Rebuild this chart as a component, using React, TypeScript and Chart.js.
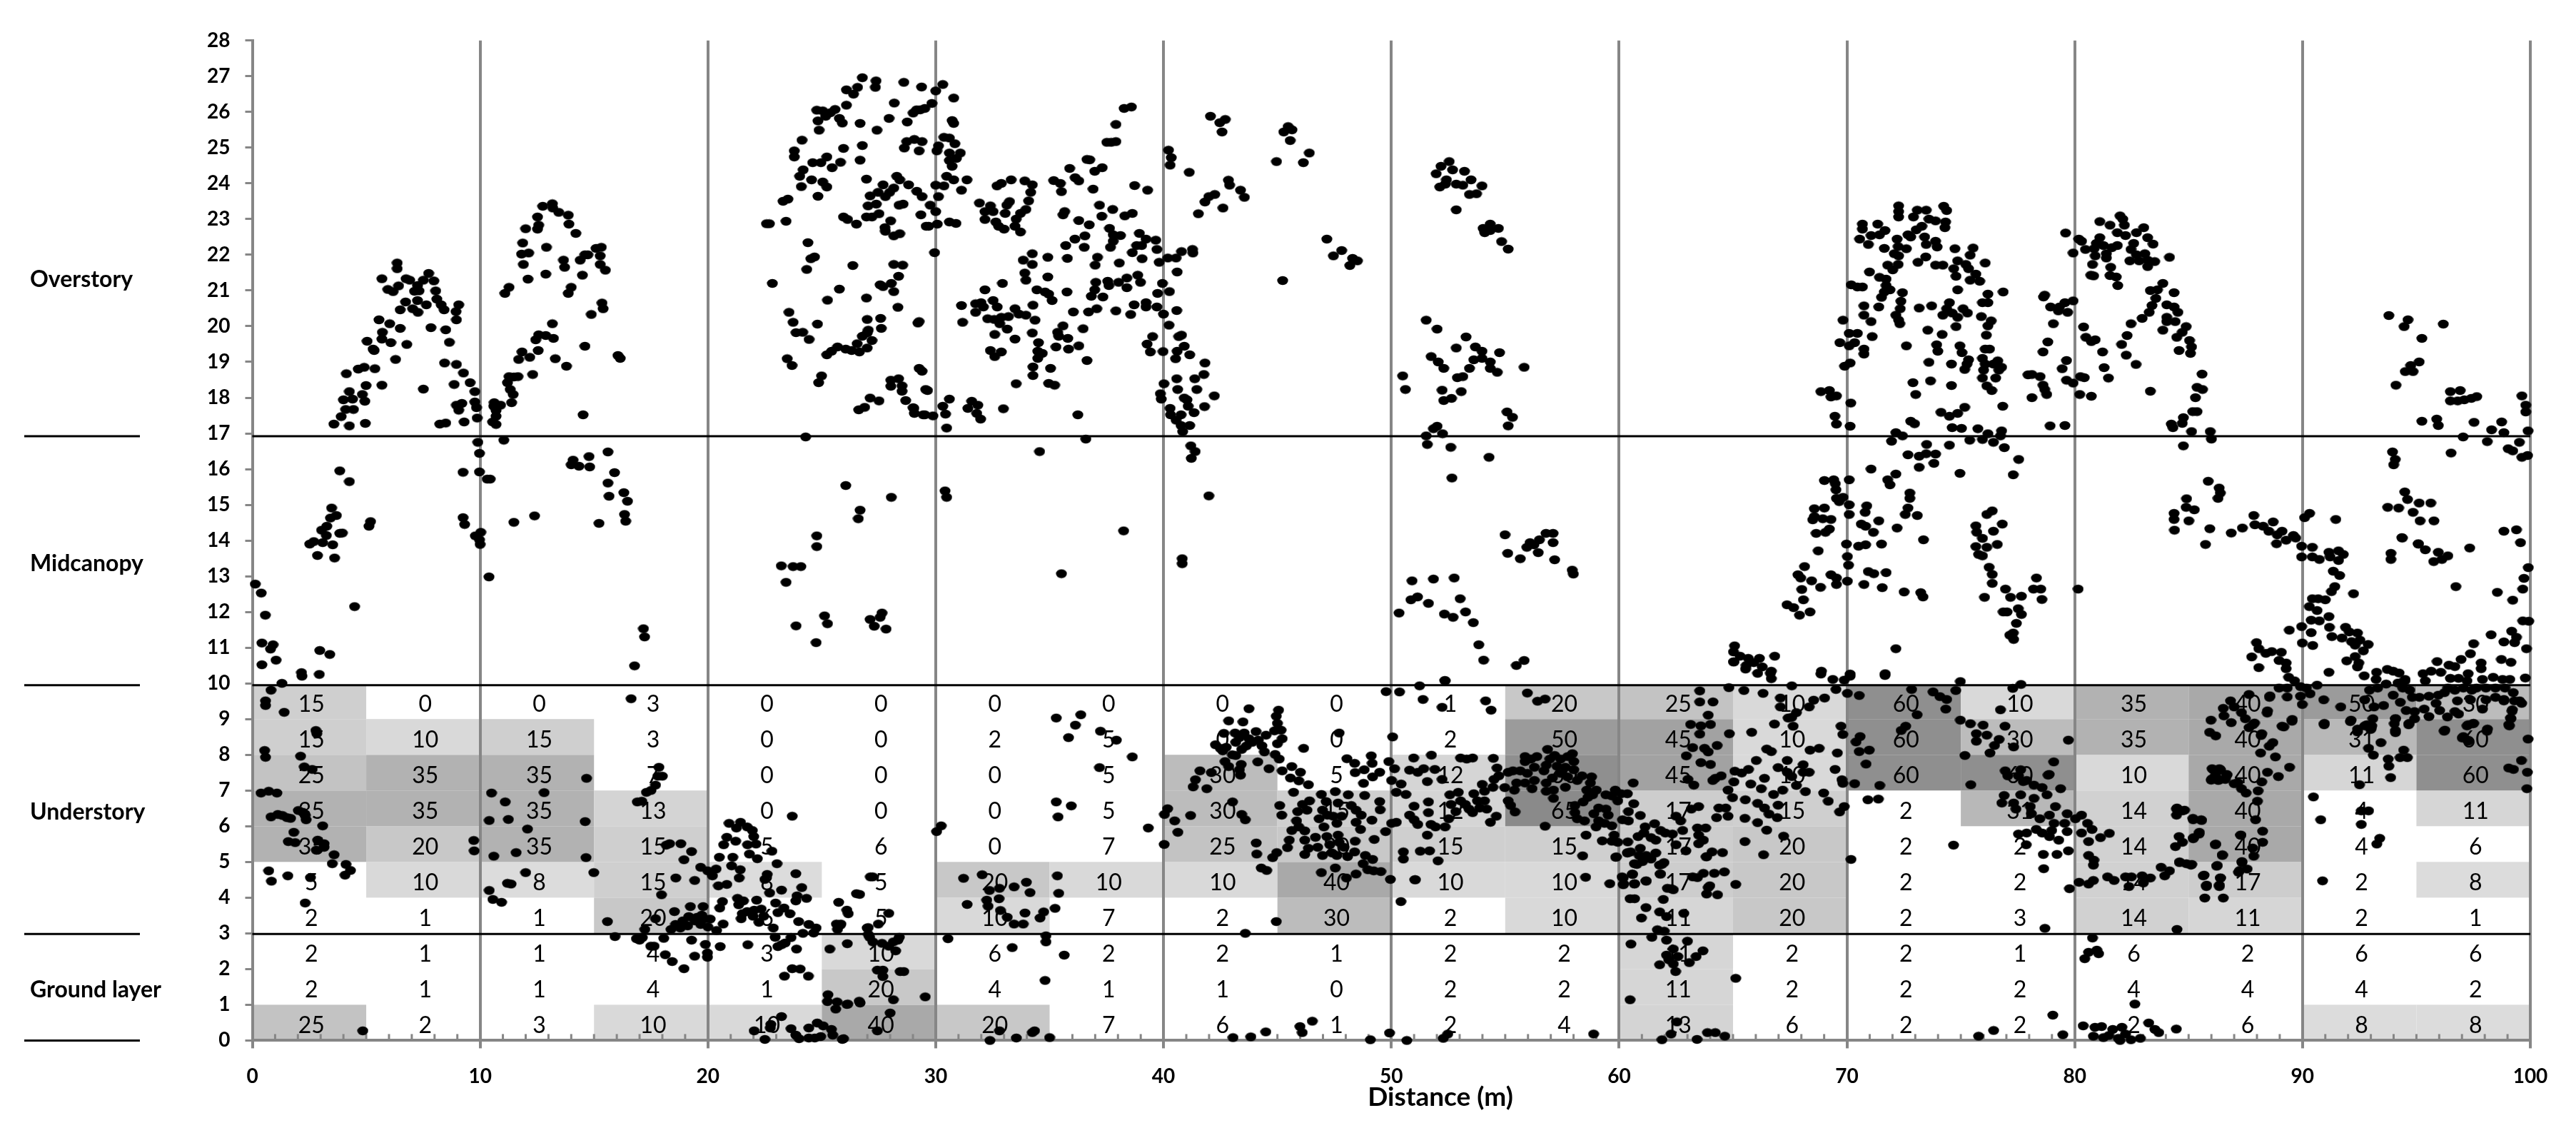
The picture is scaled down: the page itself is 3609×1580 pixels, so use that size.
import React, { useEffect, useRef } from "react";
import { Chart, registerables } from "chart.js";

Chart.register(...registerables);

const yTicksMax = 28;
const layerLines = [2.98, 9.95, 16.92];
const layerNames = [
  { name: "Overstory", y: 21.3 },
  { name: "Midcanopy", y: 13.35 },
  { name: "Understory", y: 6.4 },
  { name: "Ground layer", y: 1.42 },
];
const columnStarts = [0, 5, 10, 15, 20, 25, 30, 35, 40, 45, 50, 55, 60, 65, 70, 75, 80, 85, 90, 95];
const row9 = [15, 0, 0, 3, 0, 0, 0, 0, 0, 0, 1, 20, 25, 10, 60, 10, 35, 40, 50, 30];
const row8 = [15, 10, 15, 3, 0, 0, 2, 5, 0, 0, 2, 50, 45, 10, 60, 30, 35, 40, 31, 60];
const row7 = [25, 35, 35, 7, 0, 0, 0, 5, 30, 5, 12, 60, 45, 10, 60, 60, 10, 40, 11, 60];
const row6 = [35, 35, 35, 13, 0, 0, 0, 5, 30, 15, 12, 65, 17, 15, 2, 31, 14, 40, 4, 11];
const row5 = [35, 20, 35, 15, 5, 6, 0, 7, 25, 20, 15, 15, 17, 20, 2, 2, 14, 40, 4, 6];
const row4 = [5, 10, 8, 15, 8, 5, 20, 10, 10, 40, 10, 10, 17, 20, 2, 2, 14, 17, 2, 8];
const row3 = [2, 1, 1, 20, 6, 5, 10, 7, 2, 30, 2, 10, 11, 20, 2, 3, 14, 11, 2, 1];
const row2 = [2, 1, 1, 4, 3, 10, 6, 2, 2, 1, 2, 2, 11, 2, 2, 1, 6, 2, 6, 6];
const row1 = [2, 1, 1, 4, 1, 20, 4, 1, 1, 0, 2, 2, 11, 2, 2, 2, 4, 4, 4, 2];
const row0 = [25, 2, 3, 10, 10, 40, 20, 7, 6, 1, 2, 4, 13, 6, 2, 2, 2, 6, 8, 8];
const rows = [row0, row1, row2, row3, row4, row5, row6, row7, row8, row9];
const shades: Record<number, string> = {
  8: "#dcdcdc", 10: "#d9d9d9", 11: "#d6d6d6", 12: "#d5d5d5", 13: "#d4d4d4", 14: "#d1d1d1", 15: "#cfcfcf", 17: "#cdcdcd",
  20: "#c8c8c8", 25: "#c3c3c3", 30: "#bcbcbc", 31: "#b8b8b8", 35: "#b2b2b2", 40: "#a9a9a9", 45: "#a2a2a2", 50: "#9b9b9b",
  60: "#8f8f8f", 65: "#8a8a8a",
};

const treeA = [3.58,17.26,4.26,17.21,4.96,17.28,3.9,17.47,4.44,17.67,4.1,17.67,4,17.94,4.26,18.17,4.4,17.96,4.83,18.09,4.94,17.9,4.99,18.34,5.69,18.35,4.13,18.67,4.65,18.8,4.91,18.85,5.38,18.81,6.29,19.07,5.35,19.32,5.04,19.58,5.3,19.36,5.69,19.64,6.08,19.54,6.78,19.49,5.71,19.83,5.56,20.18,6.03,20.07,6.49,19.94,7.51,18.24,6.49,20.46,7.04,20.49,7.27,20.39,6.73,20.68,7.64,20.6,7.25,20.72,5.95,21.03,6.18,20.97,5.69,21.33,6.42,21.13,6.36,21.77,6.36,21.61,6.75,21.33,6.91,21.29,7.12,20.98,7.32,20.99,7.25,21.14,7.51,21.29,7.74,21.48,7.97,21.27,8.05,20.99,8.1,20.76,8.29,20.6,8.42,20.46,7.84,19.96,8.49,19.9,8.65,19.55,8.44,18.97,8.96,18.93,9.27,18.69,8.86,18.37,9.56,18.42,9.77,18.17,8.94,20.41,9.06,20.6,8.96,20.18,8.96,17.79,9.2,17.84,9.06,17.65,9.77,17.88,9.84,17.72,9.87,17.43,9.3,17.32,8.23,17.26,8.49,17.29];
const treeB = [10.6,17.76,10.62,17.86,10.9,17.79,10.7,17.48,10.7,17.64,10.55,17.32,10.7,17.25,11.38,17.86,11.45,18.09,11.32,18.23,11.2,18.42,11.27,18.59,11.48,18.58,11.66,18.59,12.31,18.65,11.69,19.07,11.84,19.28,12.18,19.13,12.55,19.32,12.44,19.62,12.57,19.76,12.88,19.74,13.22,19.66,13.17,20.07,13.3,19.09,13.79,18.88,14.6,19.44,14.52,17.52,11.09,20.92,11.27,21.09,12.1,21.32,11.9,21.73,11.82,22.02,11.87,22.33,12.13,22.05,12.91,22.21,12.88,21.46,12,22.73,12.52,23.06,12.57,22.83,12.52,22.72,12.75,23.36,13.17,23.43,13.19,23.31,13.45,23.19,13.87,23.11,13.9,22.86,14.2,22.6,15.09,22.18,15.32,22.21,14.6,22,14.39,21.85,13.66,21.85,13.71,21.65,14.49,21.43,15.27,21.97,15.27,21.73,15.5,21.57,14,21.09,13.87,20.92,15.35,20.65,15.4,20.49,14.88,20.33,16.05,19.18,16.15,19.1,14.73,22];
const midA = [0.13,12.78,0.39,12.53,0.57,11.91,0.42,11.13,0.8,10.96,0.91,11.08,0.42,10.52,1.04,10.65,2.16,10.3,2.18,10.2,2.94,10.25,2.96,10.92,3.4,10.81,4.49,12.15,2.52,13.9,2.7,13.97,2.86,13.58,3.09,13.94,3.61,13.51,3.53,13.88,3.04,14.29,3.27,14.4,3.25,14.14,3.43,14.63,3.69,14.7,3.84,14.2,3.95,14.21,3.48,14.91,3.84,15.95,4.26,15.65,5.19,14.53,5.12,14.4,9.25,15.91,9.97,15.92,10.31,15.72,10.44,15.72,9.9,16.75,9.97,16.44,11.04,16.81,9.25,14.64,9.32,14.45,9.79,14.13,10.03,14.23,9.97,14.02,10,13.89,10.39,12.98,11.48,14.51,12.39,14.69,15.22,14.48,16.34,14.73,16.39,14.54,16.31,15.34,16.47,15.1,15.66,15.24,15.61,15.61,15.9,15.9,15.61,16.48,14.78,16.35,14.81,16.06,14.08,16.25,14,16.12,14.34,16.08,17.17,11.53,17.22,11.3,16.78,10.49];
const underA = [1.3,10,0.82,9.81,0.58,9.51,0.58,9.38,1.4,9.19,2.79,8.68,2.83,8.59,0.54,8.12,0.58,7.93,2.12,7.96,2.28,7.66,2.63,7.59,0.38,6.93,0.72,6.98,1.08,6.93,2.02,6.44,2.22,6.39,2.32,6.3,2.36,6.18,3.09,6.01,0.82,6.26,1.12,6.33,1.32,6.3,1.52,6.24,1.68,6.22,1.82,5.83,1.58,5.57,1.88,5.54,2.87,5.61,3.15,5.51,3.15,5.41,2.81,5.33,3.59,5.2,3.51,4.95,4.11,4.93,4.31,4.76,4.07,4.63,0.72,4.75,0.84,4.46,1.56,4.61,2.55,4.56,2.32,3.85,4.85,0.27,9.72,5.6,9.74,5.31,10.5,6.93,11.1,6.68,12.81,6.94,10.4,6.16,11.24,6.19,12.08,5.92,14.67,7.34,14.61,6.13,14.65,5.12,14.99,4.7,10.6,5.16,11.58,5.26,12,4.7,10.4,4.2,10.56,3.95,10.94,3.87,11.2,4.4,11.36,4.38,16.63,9.57];
const underB = [16.9,6.68,17.1,6.7,17.3,6.95,17.5,7,17.7,7.15,17.8,7.4,18,7.4,17.85,7.65,15.59,3.33,15.92,2.91,17,2.81,17.12,2.88,17.23,3.11,16.86,2.85,17.64,2.64,17.49,2.64,17.7,3.41,18.06,2.86,18.13,2.4,18.43,2.21,18.95,2.01,19.28,2.81,19.89,2.69,19.42,2.36,19.98,2.45,19.98,2.33,20.54,2.63,21.75,2.68,23.07,2.63,23.23,2.68,23.39,2.73,23.89,2.56,22.95,2.89,23.65,2.88,24.17,3,24.64,3.01,25.69,3.11,25.81,3.23,25.35,2.56,26.12,2.71,26.99,3.15,27.1,2.89,23.7,2.01,24.05,2,23.36,1.8,24.41,1.8,25.27,1.28,25.25,1.09,25.67,1.08,25.61,0.88,26.1,1.01,26.68,1.05,26.66,4.09,26.52,4.11,25.74,3.87,26.1,3.65,26.16,3.55,27.13,4.58,23.23,0.67,22.03,0.27,22.76,0.45,22.74,0.35,22.5,0.03,23.65,0.33,23.86,0.15,24,0.05,24.43,0.07,24.43,0.35,24.8,0.49,25.06,0.41,25.42,0.31,25.48,0.15,24.95,0.11,24.69,0.07,25.95,0.05,18.32,5.51,18.17,5.47,18.81,5.51,19.28,5.29,18.95,5.06,19.68,4.85,19.99,4.75,20.2,4.61,20.36,4.8,18.59,4.55,19.42,4.48,17.96,4.08,18.53,3.61,19.23,3.75,19.79,3.75,18.38,3.11,18.58,3.25,18.79,3.15,18.9,3.35,19.11,3.21,19.16,3.47,19.42,3.35,19.52,3.45,19.68,3.25,19.84,3.41,20,3.18,20.1,3.4,19.73,3.51,20.38,3.08,20.67,3.26,20.52,3.71,20.64,3.89,21.3,3.98,21.35,3.8,21.56,3.91,22.14,3.93,21.46,3.41,21.51,3.55,21.72,3.61,22.03,3.65,22.34,3.68,22.24,3.31,21.98,3.48,22.45,3.48,22.87,3.15,22.97,3.85,23.34,3.71,23.07,3.58,23.6,3.55,23.98,3.33,23.86,3.91,23.91,4.05,24.33,3.98,24.43,3.25,24.75,3.15,24.12,4.28,23.86,4.67,23.23,4.21,22.71,4.13,22.6,4.65,22.5,4.51,23.03,4.95,20.93,6.08,21.25,5.95,21.43,6.11,21.72,5.98,21.95,5.88,22.01,5.71,20.83,5.69,21.22,5.58,20.69,5.48,21.74,5.48,22.11,5.5,22.81,5.3,21.82,5.22,22.17,5.09,20.5,5.13,21.09,5.13,21.04,4.89,21.42,4.78,21.37,4.55,20.46,4.33,20.83,4.37,23.7,6.28];
const underC = [27.24,4.58,25.64,3.26,25.84,3.26,27.04,3.16,27.94,3.56,27.48,3.26,27.04,2.97,27.24,2.76,27.64,2.72,27.94,2.64,28.24,2.51,28.34,2.81,28.14,2.76,28.4,2.89,27.44,1.97,27.68,1.97,27.68,1.79,28.44,1.93,28.6,1.93,28.14,1.14,29.54,1.22,28,0.77,27.44,0.27,25.9,0.03,26.64,1.1,26.14,1.02,30.54,2.85,30.04,5.85,30.24,6.01,31.22,4.54,32.04,4.64,32.36,4.2,32.8,4.26,33.44,4.3,33.98,4.43,34.14,4.14,32.24,3.93,32.78,3.97,31.38,3.81,32.3,3.76,32.84,3.64,33.14,3.45,33.44,3.26,33.84,3.26,33.92,3.57,34.58,3.43,34.74,3.6,35.24,3.7,34.84,2.93,34.84,2.76,33.36,2.6,35.64,2.39,34.8,1.68,35.34,4.61,35.4,4.12,35.29,9.03,36.37,9.12,36.13,8.83,35.83,8.48,37.23,8.66,37.93,8.41,38.63,7.94,37.19,7.64,35.29,6.68,35.95,6.57,35.37,6.26,39.33,5.95,40.03,5.49,32.38,0,32.8,0.27,33.54,0.07,34.24,0.22,34.34,0.27,35,0.08,43.05,0.08,43.83,0.1,44.49,0.24,45.99,0.39,46.09,0.22,46.53,0.54,49.08,0.02,49.92,0.21,50.68,0,43.59,3,44.95,3.33,50.42,3.89,49.96,4.51,51.03,4.5,40.04,6.33,40.18,6.49,40.49,6.15,40.63,5.83,41.19,6.3,43.03,6.68,43.43,6.33,43.59,6.18,44.07,5.53,44.09,5.22,44.29,4.83,44.53,4.76,44.79,5.12,44.97,5.26,41.4,7.3,41.6,7.55,41.3,7.1,42.1,7.5,41.9,7.05];
const underD = [43.75,9.29,42.86,8.95,43.49,8.92,45.05,9.25,44.95,9.08,45,8.88,45.16,8.69,44.87,8.67,42.65,8.6,43.14,8.61,43.54,8.61,44.06,8.65,44.5,8.55,45.21,8.45,45,8.31,46.15,8.18,47.71,8.61,50.06,8.5,42.28,8.28,42.49,8.18,42.75,8.21,43.02,8,43.17,8.35,43.43,8.15,43.64,8.25,43.9,8.35,44.16,8.41,44.32,8.25,44.43,8.08,43.33,8.48,43.75,8.45,42.6,8.11,43.17,7.98,44.9,8.01,45.08,7.88,44.14,7.8,42.7,7.81,43.41,7.73,42.86,7.67,43.38,7.43,43.33,7.58,44.63,7.61,45.21,7.55,45.63,7.67,46.01,7.51,45.57,7.35,45.94,7.27,46.36,7.16,48.05,7.89,48.39,7.76,49.12,7.97,49.16,7.76,49.89,7.81,50.14,7.61,48.41,7.5,48.81,7.58,49.49,7.51,49.18,7.38,48.78,7.2,50.01,7.28,50.43,7.18,50.22,6.95,50.64,6.89,45.71,6.95,46.93,6.89,47.54,6.97,48.11,6.88,48.83,6.86,45.1,6.58,45.19,6.31,46.41,6.71,46.1,6.61,46.3,6.45,45.89,6.41,45.84,6.15,47.14,6.69,47.66,6.65,48.24,6.58,48.45,6.45,48.68,6.31,49.15,6.17,49.49,6.69,49.51,6.46,46.98,6.45,47.19,6.31,46.83,6.21,47.61,6.08,47.82,6.28,47.45,6.28,47.04,5.98,48.45,6.11,48.65,5.91,45.94,5.98,45.63,5.88,46.2,5.87,45.52,5.61,45.44,5.4,46.2,5.61,46.67,5.69,47.17,5.71,47.66,5.75,48.41,5.58,49.25,5.63,49.75,5.85,50.01,6.08,50.22,6.11,46.36,5.38,46.2,5.21,46.77,5.41,46.98,5.18,47.3,5.48,47.4,5.25,47.61,5.18,47.71,5.55,47.92,5.41,48.08,5.15,48.39,5.28,48.86,5.18,49.18,5.07,48.76,4.95,48.97,4.78,49.23,4.75,49.54,4.73,48.45,4.66,48.03,4.55,47.54,4.83,46.93,4.7,51.06,4.5,52.05,5.03,50.53,5.28,50.53,5.08,51.27,5.3,51.68,5.31,51.58,5.75,49.77,9.77,50.36,9.76,51.24,9.93,52.36,10.07,51.39,9.55,52.23,9.33,50.98,7.91,51.76,7.99,53.04,7.91,50.8,7.57,51.16,7.51,51.42,7.61,51.91,7.59,51.58,7.25,52.23,7.31,51,6.56,50.8,6.31,51.16,6.05,51,6.18,51.63,6.68,51.63,6.38,51.74,6.05,51.94,5.98,52.36,5.98,52.57,6.88,52.94,6.95,52.62,6.61,52.83,6.41,52.52,6.21,53.04,6.71];
const underE = [54.14,9.51,54.38,9.25,55.97,9.73,56.42,9.5,56.75,9.56,53.31,7.88,53.57,7.91,54.48,7.9,54.64,7.63,53.25,6.61,53.57,6.38,53.78,6.71,54.09,6.71,54.19,6.48,53.88,6.51,53.62,6.91,53.99,7.17,54.09,6.98,53.41,6.48,54.35,6.11,54.61,6.28,54.51,7.31,54.46,7.09,54.72,7.41,54.98,7.08,55.13,7.51,55.34,7.55,55.66,7.55,55.5,7.21,55.87,7.95,55.87,7.81,56.39,7.95,56.13,7.88,56.28,7.65,55.97,7.48,55.87,7.21,56.18,7.05,55.4,7.01,55.13,6.71,55.24,6.58,55.43,6.4,56.28,7.28,56.7,7.55,56.86,8.15,56.96,7.88,57.17,7.98,57.43,7.88,57.95,8.03,58.01,7.81,57.74,7.95,56.8,7.71,57.27,7.68,57.64,7.65,58.01,7.58,56.8,7.21,57.07,7.35,57.12,7.01,56.8,6.98,57.12,6.78,57.64,7.09,57.74,7.38,58.16,7.28,58.37,7.41,58.79,7.38,58.74,7.21,57.43,7.48,58.58,7.01,59,7.01,58.63,6.81,58.84,6.88,58.42,6.68,59.42,6.88,59.83,7.01,59.68,6.85,59.94,6.71,60.36,6.91,60.09,6.91,60.62,7.21,58.06,6.58,58.06,6.38,58.16,6.21,58.48,6.15,56.75,6,59.1,6.51,59.42,6.48,58.89,6.35,59.52,6.31,59.1,6.15,59.36,6.08,58.99,5.98,59.68,6.01,60.15,6.18,60.41,6.15,60.41,6.41,60.64,6.63,60.93,6.3,58.55,5.75,59.26,5.59,59.78,5.75,59.68,5.58,59.94,5.55,60.38,5.56,58.4,5.17,59.85,5.13,58.53,4.57,59.59,4.39,60.13,4.58,60.2,4.38,60.59,4.65,60.67,4.38,61.19,4.46,60.36,5.25,60.51,5.28,60.93,5.38,60.83,5.71,61.14,5.98,61.56,6.07,61.09,5.81,61.4,5.68,61.82,5.88,61.61,5.61,62.03,5.81,62.34,5.78,62.79,5.88,60.88,5.18,61.19,5.18,61.61,5.25,60.67,4.95,61.03,5.01,61.4,5.08,61.77,4.91,61.97,4.98,61.8,4.66,62.5,5.48,62.93,5.31,62.29,4.25,63.23,4.58,63.7,4.68,63.44,4.56,63.91,4.28,62.5,6.28,62.7,6.15,63.49,6.55,63.17,6.48,63.54,9.79,63.54,9.48,64.12,9.48,63.91,9.11,63.14,8.85,63.59,8.81,64.01,8.85,63.54,8.58,63.23,8.2,63.75,8.18,63.91,8.08,62.95,7.97,63.59,7.78,64.01,7.73,63.02,7.31,63.28,7.15,64.11,7.28,63.44,5.95,63.8,5.95,63.49,5.75,63.7,5.61,63.49,5.51,63.85,5.15];
const underF = [64.82,9.88,65.48,9.8,66.32,9.72,66.68,10.13,67.58,9.93,67.08,9.59,67.08,9.34,68.34,9.34,68.54,9.53,69.02,9.59,69.52,9.83,70.02,9.72,70.54,9.66,67.78,9.18,67.58,9.05,67.42,9.03,67.64,8.8,66.82,8.86,65.82,8.63,64.84,8.59,64.3,8.26,69.74,8.8,69.82,8.57,66.48,8.16,66.68,8.09,68.38,8.13,68.78,8.18,69.58,8.05,70.4,8.36,70.58,8.51,70.54,8.09,70.98,8.13,70.84,7.74,66.02,7.84,65.68,7.59,65.08,7.54,65.38,7.49,64.48,7.41,64.22,7.34,65.04,7.24,65.78,7.18,66.38,7.34,66.98,7.64,67.38,7.84,67.38,7.51,68.08,7.72,68.08,7.51,67.58,7.39,68.34,7.51,67.78,7.14,66.24,7.05,67.18,7.01,66.78,6.89,68.18,6.97,68.98,6.93,69.18,6.7,69.48,7.59,69.78,7.3,69.82,7.2,70.34,7.19,71.44,7.14,69.88,6.55,69.68,6.4,70.92,6.74,71.38,6.76,64.78,7.01,64.98,6.8,65.54,6.74,64.38,6.51,64.68,6.51,64.28,6.24,64.78,6.28,65.52,6.22,66.08,6.64,66.38,6.51,66.58,6.34,66.94,6.24,66.98,6.59,66.08,6.1,66.48,5.89,67.22,5.72,65.52,5.57,66.34,5.2,64.08,5.28,64.54,5.26,63.82,5.14,64.62,4.72,64.18,4.68,65.12,4.37,63.98,4.33,64.32,4.08,63.84,4.1,60.48,3.97,60.68,3.97,61.18,3.72,60.98,3.43,61.94,3.95,61.78,3.6,62.08,3.47,62.84,3.56,61.44,2.89,61.68,3.1,61.98,3.06,62.08,2.81,63,2.78,60.52,2.7,63.68,2.51,62.38,2.56,62.08,2.39,62.58,2.35,61.78,2.12,63.08,2.18,63.38,2.35,62.38,2.14,62.48,1.93,62.18,2.26,60.18,4.55,60.58,4.66,61.18,4.47,60.18,4.36,60.68,4.39,61.82,4.66,62.12,4.26,62.38,4.22,60.78,4.93,61.88,4.93,59.88,5.14,60.38,5.26,65.12,1.74,60.48,1.14,58.88,0.18,52.28,0.06,52.48,0.18,61.88,0.02,62.28,0.18,63.42,0.03,63.88,0.22,64.22,0.22,64.64,0.12,62.54,0.52,75.78,0.12,76.44,0.28,79.04,0.71,79.48,0.16];
const underG = [72.84,9.83,73.78,9.76,74.08,9.63,74.38,9.55,74.78,9.8,74.98,10.05,74.34,9.28,73.08,9.12,72.38,8.68,72.58,8.8,74.98,8.97,75.42,8.87,75.18,7.98,75.44,7.16,75.98,8.83,75.68,8.59,75.68,8.38,76.14,8.55,76.68,8.43,76.48,8.26,76.28,8.05,76.94,8.8,77.32,8.22,76.74,9.26,77.28,9.86,77.64,9.97,74.68,5.47,70.18,5.07,79.08,7.8,78.88,7.45,79.72,8.41,79.38,7.05,76.95,7.55,77.63,7.58,77.06,7.41,77.53,7.41,77.89,7.28,77.74,7.25,78.21,7.15,78.57,7.08,78.78,6.88,78.83,7.43,76.9,6.86,77.63,6.88,76.8,6.65,77.32,6.65,78.21,6.78,77.42,6.48,78.05,6.55,78.1,6.35,78.47,6.21,79.15,6.55,78.89,6.31,79.67,6.35,80.3,6.31,80.03,6.21,80.56,6.08,80.76,5.91,79.56,6.08,79.09,6.08,78.99,5.88,79.67,5.85,80.3,5.81,79.3,5.61,78.89,5.71,77.53,5.78,77.89,5.81,78.31,5.91,78.57,5.81,77.87,5.48,78.62,5.21,79.22,5.21,79.72,5.31,78.64,4.81,80.61,5.57,81.13,5.68,81.52,5.8,80.61,5.18,80.84,5.05,80.82,4.91,79.77,4.25,80.19,4.43,80.61,4.38,80.82,4.48,81.44,4.58,81.73,4.48,82.23,4.58,82.49,4.58,82.38,4.31,82.96,4.61,83.32,4.55,83.01,4.41,83.79,4.85,84.16,4.75,83.95,4.61,84.6,4.98,85.1,4.91,84.47,6.48,84.73,6.43,84.47,6.31,85.2,6.18,85.57,6.16,84.58,5.71,84.73,5.55,84.42,5.43,85.2,5.65,85.46,5.78,86.17,5.48,86.48,5.18,86.23,4.88,85.64,4.61,85.78,4.31,86.35,4.31,86.4,4.55,87.29,5.75,87.19,4.71,87.34,4.98,86.09,7.58,86.4,7.58,86.67,7.45,85.99,7.29,86.3,7.28,86.61,7.31];
const underH = [84.49,3.11,78.69,3.14,80.78,2.87,80.61,2.47,80.97,2.53,81.05,2.43,80.44,2.29,82.64,1.02,80.37,0.41,80.89,0.37,81.18,0.39,80.82,0.12,81.26,0.08,81.67,0.31,81.5,0.14,82.07,0.37,81.91,0.06,81.99,0,82.47,0.02,82.88,0.06,83.25,0.49,83.52,0.31,83.69,0.22,84.46,0.32,82.23,0.18,85.98,8.97,85.92,8.63,86.19,8.53,86.84,9.51,86.52,9.3,86.55,9.09,86.87,8.9,87,9.34,87.65,9.69,88.57,9.65,88.46,9.23,87.32,9.18,87.49,9.01,87.65,8.76,87.89,8.89,88.21,8.59,88.7,8.34,88.54,8.24,88.16,8.05,88.81,7.94,89.1,8.8,89.55,8.99,89.43,7.65,88.46,7.51,88.94,7.39,88.21,7.24,88.05,6.99,88.02,6.7,87.94,6.18,88.25,5.86,87.29,5.75,88.25,5.55,87.81,5.39,87.86,5.16,86.48,5.2,86.19,5.5,87.16,7.22,87,7.19,87.32,7.05,87.52,6.93,86.03,7.61,86.35,7.61,86.03,7.33,86.35,7.3,86.68,7.43,86.19,7.43,85.19,6.22,85.55,6.18,84.49,6.51,84.82,6.45,85.22,5.68,85.47,5.83,87.34,5.01,87.24,4.76,87.57,4.8,86.26,4.9,85.68,4.63,86.39,4.55,85.79,4.35,86.35,4.35,85.71,3.99,86.52,3.99,84.6,5,84.9,4.95,85.14,4.93,90.48,6.82,90.8,6.18,92.58,6.05,92.58,6.43,92.9,6.43,93.39,5.66,93.26,5.5,90.88,4.47,92.5,7.16,93.87,7.36,93.79,7.68,93.76,7.88,94.44,8.13,94.28,7.92,94.6,7.92,93.11,7.99,92.9,8.18,93.44,8.34,92.42,8.72,92.82,8.84,93.02,8.74,92.13,8.97,90.96,8.88,94.08,8.68,94.08,9.01,94.68,8.88,96.25,8.69,97.06,8.51,97.27,8.38,97.27,8.84,97.51,8.88,98.12,8.72,99.9,8.44,99.61,7.84,99.05,7.63,99.26,7.59,99.87,7.51,99.85,7.05,99.05,8.84,99.13,9.03,99.21,9.26,98.84,9.55,99.53,9.51];
const rightBand = [88.86,13.91,89.28,14.01,89.7,14.07,89.96,13.84,89.96,13.54,90.43,13.81,90.43,13.54,90.74,13.47,91.16,13.67,91.58,13.71,91.79,13.61,91.58,13.44,91.21,13.54,94.38,14.07,95.08,13.91,95.39,13.74,95.96,13.67,95.76,13.41,96.38,13.57,96.12,13.47,93.88,13.64,93.88,13.47,97.34,13.79,99.57,13.94,99.91,13.24,99.72,12.94,99.67,12.64,99.23,12.33,98.55,12.55,96.73,12.71,91.35,13.14,91.63,13.02,91.42,12.71,91.27,12.57,92.24,12.51,90.43,12.37,90.69,12.37,91,12.34,90.3,12.15,90.64,12.04,91.16,11.87,90.38,11.77,90.74,11.75,89.96,11.59,91.18,11.57,90.38,11.42,89.42,11.49,89.99,11.13,90.45,11.06,91.29,11.31,91.89,11.57,92.05,11.44,92.41,11.41,91.73,11.27,92.52,11.21,92.15,11.17,92.31,11.07,92.88,11.09,92.67,10.91,92.31,10.75,91.94,10.63,92.47,10.57,92.41,10.46,91.16,10.31,88.08,10.44,87.77,10.74,87.98,11.14,88.08,10.97,88.39,10.84,88.65,10.89,89.07,10.87,88.97,10.64,89.28,10.57,89.28,10.41,89.39,10.17,89.65,10.07,92.71,10.21,93.25,10.31,93.23,10.11,93.72,10.39,93.98,10.34,94.24,10.29,94.5,10.11,94.19,10.01,95.29,10.27,95.65,10.34,95.39,10.07,95.91,10.61,96.43,10.51,96.69,10.47,96.07,10.31,96.49,10.14,96.85,10.14,97.27,10.27,96.96,10.67,97.37,10.83,97.51,11.11,97.84,10.57,97.84,10.41,97.22,10.07,97.9,10.11,98.37,10.17,98.78,10.11,99.1,10.11,99.78,10.15,98.73,10.67,99.15,10.59,99.83,10.97,98.84,11.16,99.31,11.14,99.39,11.29,99.18,11.46,98.28,11.36,99.67,11.75,99.93,11.74,88.97,9.87,89.33,9.87,89.33,9.62,88.55,9.61,89.91,9.91,90.17,9.87,89.91,9.64,90.33,9.71,90.64,9.95,89.99,9.41,90.93,9.54,91.68,9.34,88.45,9.17,89.54,8.94,89.18,8.78,87.82,8.84,88.18,8.54,92.94,9.81,93.3,9.87,93.67,9.98,92.73,9.54,93.14,9.34,93.56,9.38,93.98,9.67,94.29,9.47,94.5,10.07,94.4,9.87,94.71,9.81,94.82,9.61,94.55,9.24,94.92,9.21,95.34,9.28,95.55,9.07,94.92,9.01,96.02,9.24,96.36,9.06,95.13,9.61,95.55,9.64,95.96,9.67,96.23,9.74,95.86,9.44,96.69,9.81,96.8,9.51,96.69,9.21,96.85,9.14,97.06,9.87,97.43,9.81,97.37,9.54,97.9,9.28,98.05,9.87,98.47,9.87,98.47,9.61,98.84,9.51,98.89,9.87,99.25,9.74,99.3,9.51,99.62,9.44,99.2,9.22,99.15,9.01,99.08,8.81,98.05,9.54,97.64,9.87,96.38,9.87,93.09,9.01,93.04,8.81,92.73,8.81,92.1,8.93,90.95,8.84,94.08,9.01,94.03,8.87,94.08,8.62,94.66,8.84,92.41,8.64,92.99,8.71,96.22,8.66,97.22,8.81,97.48,8.87,98.1,8.66,97.01,8.47,97.27,8.41];
const treeF = [72.27,23.37,72.27,23.21,72.27,23.06,73.09,23.25,72.92,23.06,73.48,23.25,74.25,23.36,74.38,23.24,73.6,23,73.89,22.95,74.33,22.92,74.3,22.76,70.68,22.86,70.68,22.72,71.35,22.86,70.56,22.44,71.06,22.54,71.43,22.56,71.67,22.68,70.94,22.29,72.2,22.44,72.25,22.23,72.8,22.5,73.04,22.7,73.29,22.8,72.68,22.56,73.41,22.5,73.48,22.29,73.89,22.38,73.96,22.22,71.64,22.18,72.61,22.17,72.08,22.03,72.27,21.97,73.46,21.94,73.12,21.79,73.89,21.71,74.21,21.71,71.79,21.71,72.25,21.73,72.01,21.58,70.99,21.52,71.43,21.37,71.72,21.32,74.74,22.17,75.54,22.19,75.41,21.99,74.86,21.83,75.22,21.73,76.07,21.77,74.69,21.61,74.79,21.4,75.34,21.61,75.66,21.46,75.83,21.26,75.41,21.29,74.86,21.02,70.19,21.16,70.46,21.1,70.68,21.1,71.72,21.14,71.89,21.02,72.44,20.94,71.64,20.96,71.52,20.81,72.37,20.7,72.34,20.49,70.75,20.57,70.75,20.31,71.4,20.54,72.15,20.31,73.17,20.51,73.72,20.57,74.5,20.66,74.38,20.49,74.21,20.31,74.62,20.37,75.1,20.49,75.29,20.37,74.86,20.25,75.9,20.27,76.19,20.9,75.95,20.66,76.19,20.66,76.86,20.96,69.83,20.17,71.06,20.13,72.32,20.07,72.27,20.17,76.33,20.15,76.19,20.01,74.79,19.99,73.55,19.89,74.18,19.77,76.12,19.75,70.1,19.8,70.46,19.8,71.11,19.71,69.69,19.54,70.1,19.45,70.34,19.54,70.75,19.36,70.75,19.22,72.61,19.45,73.94,19.48,73.99,19.3,74.96,19.45,75.05,19.26,76.07,19.36,76.26,19.36,69.9,18.88,70.14,18.97,73.6,18.99,74.59,18.94,75.34,19.06,75.27,18.94,75.17,18.79,75.95,19.1,76.07,18.94,76.62,19.03,76.79,18.85,76.43,18.94,76.67,18.77,76,18.77,75.95,18.55,76.53,18.55,76.14,18.33,76.36,18.2,72.9,18.42,73.67,18.47,74.59,18.34,73.02,18.09,76.84,17.76,68.86,18.17,69.23,18.2,69.3,18.02,69.54,18.05,70.17,17.85,69.47,17.48,69.54,17.26,70.14,17.2,74.13,17.59,74.5,17.48,74.86,17.56,75.17,17.73,72.8,17.34,72.97,17.27,74.62,17.16,75.03,17.14,75.75,17.13,76.79,17.07];
const midF = [72.15,17.02,72.44,16.93,71.96,16.78,75.39,16.81,75.95,16.83,76.19,16.99,76.74,16.93,76.43,16.75,76.91,16.6,74.5,16.67,73.5,16.69,73.48,16.43,73.17,16.36,72.68,16.4,73.89,16.42,73.82,16.16,73.17,16.05,71.06,16,72.15,15.86,71.79,15.7,71.89,15.56,74.96,15.88,77.54,16.27,77.3,15.84,69.01,15.68,69.42,15.7,69.49,15.59,69.52,15.42,70.1,15.7,69.83,15.21,69.54,15.18,69.66,15.09,70.1,15,68.57,14.89,69.01,14.91,70.1,14.73,70.87,14.97,70.8,14.79,68.57,14.67,68.5,14.58,68.94,14.61,69.3,14.59,72.76,15.33,72.76,15.18,72.68,14.91,72.56,14.73,73.09,14.7,71.4,14.55,70.63,14.46,70.82,14.4,71.16,14.23,72.2,14.35,73.36,14.02,69.23,14.32,69.06,14.23,68.65,14.2,69.98,13.9,70.51,13.84,70.82,13.88,71.52,13.9,68.74,13.71,70.02,13.55,70.07,13.31,68.14,13.27,67.85,13.04,67.97,12.95,68.45,12.87,69.3,13.04,69.54,12.95,69.54,12.77,70.02,12.86,70.94,13.13,71.18,13.07,71.72,13.1,70.75,12.77,68.84,12.69,71.55,12.68,68.02,12.63,72.51,12.56,73.24,12.54,73.34,12.42,67.37,12.2,67.66,12.12,68.09,12.34,68.38,12,67.92,11.91,72.15,10.97,68.86,10.26,70.14,10.2,71.67,10.22,65.07,11.05,65.02,10.88,65.31,10.76,65.02,10.6,65.67,10.7,66.16,10.7,66.83,10.76,65.91,10.58,65.55,10.4,66.08,10.28,66.64,10.28,75.66,14.41,75.95,14.06,75.7,14.23,76.43,14.26,76.14,14.73,76.38,14.83,76.82,14.46,76.6,13.89,76.14,13.81,75.66,13.83,75.78,13.61,75.95,13.57,76.24,13.25,76.38,13.05,76.38,12.8,76.96,12.64,76.04,12.41,77.18,12.41,77.66,12.44,78.32,12.95,78.19,12.64,78.51,12.64,78.56,12.35,76.86,12,77.03,12,77.52,12.09,77.66,11.93,77.44,11.68,77.3,11.41,77.32,11.23,77.15,11.35,80.15,12.64,65.04,10.6,65.58,10.5,66.28,10.46,66.68,10.34,68.88,10.34,69.38,10.11,70.14,10.26,69.88,10.09,71.68,10.27];
const treeG = [78.63,20.82,78.68,20.87,78.94,20.54,79.33,20.54,79.57,20.66,79.93,20.71,79.28,20.43,79.69,20.39,79.06,20.07,80.39,19.98,80.49,19.69,80.73,19.57,80.9,19.62,81.22,19.28,78.82,19.56,78.61,19.28,79.64,19.04,79.45,18.81,77.95,18.64,78.12,18.65,78.48,18.59,78.61,18.35,78.68,18.23,78.12,18,78.77,18.09,79.64,18.49,79.93,18.41,80.25,18.59,80.42,18.56,80.22,18.09,80.73,18.04,81.29,18.84,81.48,18.55,83.32,18.18,78.92,17.21,79.57,17.22,82.69,18.93,79.6,22.61,79.93,22.05,80.18,22.44,80.3,22.38,80.47,22.15,81.1,22.93,81.55,22.83,81.1,22.48,80.95,22.32,80.85,22.17,80.9,21.97,80.78,21.73,80.71,21.43,80.83,21.41,81.26,22.26,81.39,22.03,81.39,21.91,81.63,22.2,81.87,22.26,81.99,23.09,82.11,23,82.18,22.83,81.87,22.62,82.23,22.54,82.47,22.15,82.71,22.62,83.03,22.76,82.59,22.32,83.2,22.48,83.44,22.3,83.08,22.03,82.71,22,82.42,21.83,82.83,21.83,83.2,21.85,83.51,21.81,83.2,21.67,84.16,21.93,81.58,21.65,81.55,21.42,81.82,21.38,81.89,21.14,83.87,21.2,83.32,21,83.63,21.02,84.36,20.94,83.56,20.78,83.39,20.58,84.04,20.6,84.36,20.54,83.27,20.39,84.53,20.39,82.96,20.22,84.04,20.25,84.04,20.13,84.41,20.13,83.87,19.89,84.89,19.99,82.47,20.07,82.3,19.74,82.06,19.49,82.26,19.19,84.72,19.83,84.48,19.69,85.04,19.6,85.13,19.42,85.08,19.24,84.58,19.32,85.59,18.66,85.37,18.29,85.61,18.23,85.3,18,85.18,17.61,85.37,17.61,84.77,17.44,84.24,17.26,84.31,17.16,84.72,17.28,85.13,17.05,85.95,17.05,86,16.84,84.77,16.65,85.86,15.66,86.34,15.47,86.39,15.33,86.29,15.18,84.91,15.17,84.89,14.93,85.25,14.86,84.36,14.76,84.36,14.59,85.01,14.55,84.38,14.29,85.93,14.33,85.74,13.89,86.87,14.21,87.36,14.35,87.86,14.7,87.91,14.44,88.27,14.4,88.71,14.52,88.52,14.26,88.89,14.16,89.1,14.26,89.6,14.14,90.09,14.64,90.31,14.76,91.46,14.59];
const treeH = [93.79,20.3,94.63,20.18,94.46,19.99,96.18,20.06,95.24,19.66,95.12,19,94.75,18.9,94.51,18.73,94.85,18.73,94.1,18.35,96.49,18.17,96.92,18.2,96.49,17.91,96.81,17.91,97.1,17.94,97.41,17.98,97.65,18.03,99.63,18.05,99.8,17.79,99.8,17.6,95.24,17.34,95.89,17.4,95.96,17.22,97.53,17.31,98.3,17.1,98.74,17.32,98.84,17.02,99.9,17.07,97.05,16.9,98.11,16.77,96.52,16.45,93.95,16.48,94.07,16.27,94,16.12,99.03,16.57,99.23,16.51,99.52,16.75,99.63,16.33,99.88,16.38,94.49,15.36,94.61,15.15,93.74,14.93,94.22,14.91,95.12,15.05,95.63,15.05,94.85,14.79,95.16,14.55,95.77,14.55,94.36,14.08,95.09,13.9,98.84,14.26,99.39,14.3];
const treeC = [22.57,22.87,22.7,22.87,23.43,22.94,22.83,21.2,23.3,23.5,23.51,23.56,23.56,20.39,23.74,20.11,23.87,19.82,24.16,19.83,24.44,19.63,23.48,19.09,23.69,18.9,24.81,20.06,25.25,20.73,25.77,21.04,26.36,21.7,26.96,20.79,24.39,22.34,24.34,21.59,24.52,21.89,24.68,21.94,24.83,23.64,25.04,24.04,25.22,23.9,24.55,24.1,24.1,23.91,24.03,24.2,24.18,24.38,23.79,24.91,23.79,24.74,24.13,25.21,24.6,24.58,24.96,24.58,25.22,24.74,25.45,24.44,25.82,24.59,25.95,24.98,24.88,25.49,24.83,25.75,24.78,26.05,25.04,26.03,25.17,25.88,25.38,25.98,25.58,26.07,25.77,25.82,25.9,25.69,26.08,26.19,26.68,25.68,26.78,25.06,26.68,24.65,26.96,24.12,26.08,26.62,26.39,26.5,26.57,26.69,26.78,26.96,27.38,26.87,27.35,26.69,28.6,26.83,29.38,26.7,28.18,26.25,27.95,25.82,27.42,25.49,28.75,25.72,29.01,25.97,29.32,26.06,28.62,24.99,28.73,25.17,29.06,25.23,29.4,25.17,29.27,24.91,28.29,24.2,28.42,24.1,28.81,23.96,29.17,23.78,29.4,23.63,27.12,23.65,27.47,23.75,27.69,23.96,28.16,23.87,27.98,23.75,27.79,23.63,27.03,23.37,27.39,23.42,26.96,23.06,27.2,23.06,27.51,23.15,28.57,23.42,28.39,23.39,25.95,23.06,26.13,22.99,26.52,22.86,28.02,22.95,27.77,22.76,27.79,22.66,28.16,22.53,28.42,22.59,29.35,23.12,29.58,22.8,28.16,21.73,28.55,21.71,28.37,21.4,28.05,21.2,27.56,21.16,27.69,21.11,28.16,20.97,28.34,20.53,29.27,20.13,29.22,20.09,27.58,20.22,26.99,20.19,27.61,19.94,27.04,19.89,26.99,19.81,26.78,19.72,27.2,19.6,26.55,19.51,26.99,19.39,26.65,19.28,26.31,19.32,26.05,19.36,25.69,19.42,25.43,19.3,25.22,19.2,24.99,18.61,24.86,18.42,29.27,18.82,29.4,18.74,28.03,18.49,28.37,18.53,28.03,18.32,28.52,18.33,28.52,18.18,28.68,17.92,29.56,18.23,27.12,17.99,27.51,17.91,26.62,17.66,26.88,17.73,29.01,17.72,29.06,17.56,29.45,17.52,24.29,16.9,26.05,15.54,28.05,15.21,26.68,14.85,26.6,14.61,24.78,14.13,24.78,13.83,23.22,13.29,23.74,13.27,24.08,13.27,23.43,12.83,23.87,11.61,25.12,11.89,25.25,11.67,24.75,11.14,27.12,11.79,27.3,11.6,27.56,11.85,27.64,11.97,27.82,11.52];
const treeD = [30.31,26.77,30,26.59,30.79,26.39,29.83,26.24,29.52,26.1,29.16,26.06,30.72,25.76,30.79,25.68,30.36,25.29,30.6,25.27,30.12,25.05,30.05,24.91,30.84,25.11,30.6,24.85,31.08,24.85,30.91,24.7,30.6,24.64,30.72,24.48,30.48,24.2,30.79,24.1,31.37,24.1,31.13,23.81,30,23.95,30.36,23.93,30.12,23.63,29.76,23.39,30,23.21,30.07,22.86,29.69,22.8,30.6,22.92,30.89,22.88,29.95,22.06,29.64,18.2,29.04,17.7,29.52,17.52,29.88,17.49,30.31,17.76,30.6,17.96,30.43,17.54,30.48,17.15,31.41,17.7,31.58,17.9,31.85,17.79,31.8,17.56,31.97,17.4,32.97,17.69,33.53,18.39,36.24,17.52,36.59,16.84,34.56,16.49,30.41,15.39,30.48,15.21,38.25,14.27,35.52,13.07,40.82,13.49,40.82,13.35,41.99,15.25,31.13,20.58,31.18,20.11,31.75,20.63,31.99,20.66,31.75,20.39,32.09,20.54,32.52,20.72,32.7,20.54,32.28,20.21,32.57,20.19,32.88,20.25,32.81,20.07,33.19,20.27,33.48,20.49,33.65,20.34,33.96,20.31,34.36,20.17,34.27,20.59,32.59,19.77,33.14,19.92,33.48,19.64,34.24,19.81,34.51,19.54,34.48,19.3,34.68,19.24,34.48,19.1,32.4,19.32,32.88,19.28,32.59,19.15,34.27,18.86,34.27,18.62,35.04,18.82,34.96,18.4,35.22,18.35,35.35,19.83,35.59,20.01,35.4,19.72,35.28,19.42,35.8,19.66,35.83,19.36,36.47,19.93,36.28,19.45,36.64,19.04,36.04,20.4,36.71,20.4,37.07,20.49,37.91,20.43,38.56,20.33,38.71,20.6,39.23,20.66,39.23,20.54,39.71,20.54,40,20.34,40.58,20.44,40.24,20.03,36.83,20.84,37.34,20.82,36.98,21.02,35.76,20.96,34.96,20.9,35.11,20.72,34.8,20.96,37.03,21.23,37.55,21.26,37.6,21.14,38.03,21.23,38.39,21.35,38.39,21.08,38.87,21.43,38.99,21.23,39.95,21.2,39.74,20.92,40.26,20.97,33.91,21.49,33.96,21.29,34.44,21.02,34.92,21.38,32.16,21.02,32.93,21.2,33.84,21.85,34.24,22.03,34.24,21.73,34.92,21.93,35.78,21.9,35.71,22.26,36.11,22.44,36.52,22.21,36.55,22.53,37.1,21.93,37,21.71,37.67,22.21,37.79,22.38,37.79,22.56,37.63,22.74,38.11,22.54,38.06,21.77,38.63,22.06,38.82,22.26,39.06,21.89,38.94,22.6,39.23,22.44,39.66,22.41,39.04,22.26,39.71,22.15,39.81,21.79,40.19,21.91,40.55,21.91,40.79,22.09,41.27,22.15,41.29,22.05,40.6,21.52];
const treeE = [38.27,26.1,38.59,26.14,37.91,25.65,37.51,25.15,37.7,25.15,37.91,25.17,36.64,24.67,36.76,24.66,35.88,24.42,37.31,24.44,36.98,24.34,36.12,24.16,36.28,24.07,35.18,24.08,35.47,24,35.52,23.77,36.91,23.84,33.91,24.07,34.24,23.96,33.31,24.1,32.88,24,32.69,23.93,34.17,23.75,38.73,23.94,39.3,23.81,34.08,23.51,31.92,23.45,32.4,23.37,33.24,23.49,33.12,23.39,32.52,23.21,32.16,23.21,33.05,23.16,33.96,23.27,33.72,23.16,32.16,22.99,33.53,23,32.64,22.92,32.76,22.8,33,22.72,33.48,22.8,33.72,22.64,37.19,23.39,37.77,23.27,35.66,23.21,35.59,23.12,37.29,23.08,36.28,22.96,36.74,22.84,38.3,23.09,38.63,23.16,40.22,24.93,40.34,24.72,40.29,24.51,41.13,24.31,42.06,25.88,42.71,25.79,42.47,25.7,42.57,25.44,42.85,24.09,42.9,23.95,43.38,23.81,43.55,23.61,42.25,23.69,41.99,23.63,41.82,23.48,41.53,23.15,42.61,23.31,45.28,25.44,45.47,25.59,45.64,25.5,45.56,25.2,46.4,24.85,44.96,24.61,46.14,24.58,45.23,21.28,47.17,22.44,47.46,21.97,47.82,22.12,48.3,21.9,48.51,21.83,48.18,21.7,39.52,19.71,39.28,19.5,39.42,19.28,39.98,19.29,40.79,19.75,40.67,19.71,40.91,19.44,40.6,19.3,40.53,19.09,41.15,19.2,41.82,18.97,41.77,18.65,41.37,18.53,40.58,18.53,40.02,18.39,40.62,18.23,41.46,18.23,42.23,18.05,39.86,18.11,39.9,17.96,40.91,17.99,41.03,17.94,40.29,17.7,41.08,17.76,41.8,17.75,41.34,17.58,40.31,17.52,40.77,17.52,40.55,17.37,41.15,17.22,40.77,17.22,40.84,17.05,41.2,16.65,41.39,16.49,41.22,16.3];
const treeJ = [52.54,24.61,52.18,24.48,51.97,24.27,52.69,24.38,53.21,24.34,52.42,24.1,52.37,23.98,52.13,23.9,52.85,23.98,53.14,23.95,53.5,24.1,53.98,23.93,53.43,23.69,53.74,23.71,52.85,23.26,54.03,22.74,54.1,22.62,54.34,22.86,54.34,22.68,54.7,22.74,54.84,22.37,55.13,22.16,51.53,20.17,52.01,19.92,53.28,19.7,52.85,19.39,53.69,19.42,53.98,19.3,54.75,19.26,51.75,19.15,52.06,19,52.3,18.82,53.62,19.06,53.98,19.1,54.34,19,53.43,18.82,54.65,18.71,54.34,18.82,55.83,18.85,50.5,18.61,50.62,18.23,52.9,18.56,53.14,18.59,52.23,18.21,53.07,18.17,52.3,17.92,52.64,17.98,55.08,17.6,55.32,17.45,55.13,17.21,51.85,17.13,52.01,17.2,52.25,16.99,51.53,16.93,51.58,16.69,52.61,16.61,54.29,16.33,52.66,15.75,54.99,14.16,55.11,13.64,55.66,13.49,55.95,13.81,56.09,13.94,56.26,13.88,56.45,13.66,56.5,14.02,56.79,14.2,57.1,14.2,57.1,13.94,57.17,13.46,57.94,13.17,57.99,13.06,50.91,12.87,51.85,12.92,52.76,12.95,50.86,12.34,51.15,12.42,51.63,12.24,53.02,12.37,50.34,11.97,52.33,11.94,52.71,11.85,53.26,12,53.6,11.7,53.84,11.08,54.05,10.65,55.83,10.64,55.49,10.5,52.35,10.08];
const pointGroups = [treeA, treeB, midA, underA, underB, underC, underD, underE, underF, underG, underH, rightBand, treeF, midF, treeG, treeH, treeC, treeD, treeE, treeJ];

function toPoints(flat: number[]) {
  const out: { x: number; y: number }[] = [];
  for (let i = 0; i + 1 < flat.length; i += 2) out.push({ x: flat[i], y: flat[i + 1] });
  return out;
}

const GRAY = "#868686";
const plugin = {
  id: "strata",
  beforeDraw(chart: any) {
    const { ctx, scales } = chart;
    const x = scales.x;
    const y = scales.y;
    ctx.save();
    rows.forEach((row, r) => {
      const yBottom = y.getPixelForValue(r);
      const yTop = y.getPixelForValue(Math.min(r + 1, layerLines[1]));
      row.forEach((v, c) => {
        const fill = shades[v];
        if (!fill) return;
        const xl = x.getPixelForValue(columnStarts[c]);
        const xr = x.getPixelForValue(columnStarts[c] + 5);
        ctx.fillStyle = fill;
        ctx.fillRect(xl, yTop, xr - xl, yBottom - yTop);
      });
    });
    ctx.fillStyle = "#000";
    ctx.font = "32px Lato";
    ctx.textAlign = "center";
    ctx.textBaseline = "middle";
    rows.forEach((row, r) => {
      const py = y.getPixelForValue(r + 0.5) + 4;
      row.forEach((v, c) => {
        ctx.fillText(String(v), x.getPixelForValue(columnStarts[c] + 2.5) + 3, py);
      });
    });
    ctx.restore();
  },
  beforeDatasetsDraw(chart: any) {
    const { ctx, scales, chartArea } = chart;
    const x = scales.x;
    const y = scales.y;
    ctx.save();
    ctx.strokeStyle = GRAY;
    ctx.lineWidth = 3;
    for (let m = 1; m < 100; m++) {
      if (m % 10 === 0) continue;
      const px = x.getPixelForValue(m);
      ctx.beginPath();
      ctx.moveTo(px, chartArea.bottom);
      ctx.lineTo(px, chartArea.bottom - 9);
      ctx.stroke();
    }
    ctx.strokeStyle = "#000";
    ctx.lineWidth = 3;
    layerLines.forEach((v) => {
      const py = y.getPixelForValue(v);
      ctx.beginPath();
      ctx.moveTo(chartArea.left, py);
      ctx.lineTo(chartArea.right, py);
      ctx.stroke();
    });
    [0, ...layerLines].forEach((v) => {
      const py = y.getPixelForValue(v);
      ctx.beginPath();
      ctx.moveTo(34, py);
      ctx.lineTo(196, py);
      ctx.stroke();
    });
    ctx.fillStyle = "#000";
    ctx.font = "bold 32px Lato";
    ctx.textAlign = "left";
    ctx.textBaseline = "middle";
    layerNames.forEach((l) => ctx.fillText(l.name, 42, y.getPixelForValue(l.y)));
    ctx.textAlign = "center";
    ctx.font = "bold 37px Lato";
    ctx.fillText("Distance (m)", 2018, 1537);
    ctx.restore();
  },
};

function dotImage() {
  const c = document.createElement("canvas");
  c.width = 16;
  c.height = 14;
  const g = c.getContext("2d")!;
  g.fillStyle = "#000";
  g.beginPath();
  g.ellipse(8, 7, 7.6, 6.2, 0, 0, Math.PI * 2);
  g.fill();
  return c;
}

export default function App() {
  const ref = useRef<HTMLCanvasElement | null>(null);
  useEffect(() => {
    const chart = new Chart(ref.current!, {
      type: "scatter",
      data: {
        datasets: [
          {
            data: pointGroups.flatMap(toPoints),
            pointStyle: dotImage() as any,
            pointRadius: 6,
            showLine: false,
            clip: false as any,
          },
        ],
      },
      options: {
        responsive: false,
        animation: false,
        events: [],
        layout: { autoPadding: false, padding: { top: 56.8, right: 64, bottom: 0, left: 0 } },
        plugins: { legend: { display: false }, title: { display: false }, tooltip: { enabled: false } },
        scales: {
          x: {
            type: "linear",
            min: 0,
            max: 100,
            afterFit(s: any) {
              s.height = 122.6;
            },
            border: { color: GRAY, width: 4 },
            grid: { color: GRAY, lineWidth: 4, tickLength: 11, tickColor: GRAY, tickWidth: 4 },
            ticks: {
              stepSize: 10,
              maxRotation: 0,
              autoSkip: false,
              padding: 23,
              color: "#000",
              font: { family: "Lato", weight: "bold", size: 28 },
            },
          },
          y: {
            type: "linear",
            min: 0,
            max: yTicksMax,
            afterFit(s: any) {
              s.width = 353.5;
            },
            border: { color: GRAY, width: 4 },
            grid: { drawOnChartArea: false, tickLength: 10, tickColor: GRAY, tickWidth: 3 },
            ticks: {
              stepSize: 1,
              autoSkip: false,
              padding: 21,
              color: "#000",
              font: { family: "Lato", weight: "bold", size: 28 },
            },
          },
        },
      } as any,
      plugins: [plugin],
    });
    return () => chart.destroy();
  }, []);
  return (
    <canvas
      ref={ref}
      width={3609}
      height={1580}
      style={{ position: "absolute", left: 0, top: 0, width: 3609, height: 1580, background: "#fff" }}
    />
  );
}
